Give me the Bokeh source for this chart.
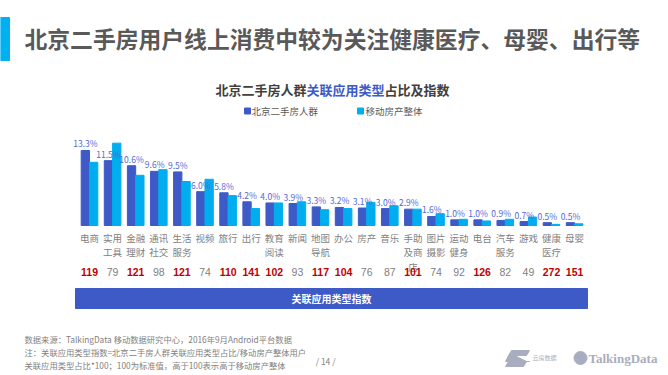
from bokeh.plotting import figure
from bokeh.models import ColumnDataSource, Range1d, Label
from bokeh.transform import dodge
from bokeh.core.properties import value
from bokeh.embed import file_html
from bokeh.resources import INLINE

# ---------------- data ----------------
categories = ["电商", "实用\n工具", "金融\n理财", "通讯\n社交", "生活\n服务", "视频", "旅行", "出行",
              "教育\n阅读", "新闻", "地图\n导航", "办公", "房产", "音乐", "手助\n及商\n店", "图片\n摄影",
              "运动\n健身", "电台", "汽车\n服务", "游戏", "健康\n医疗", "母婴"]
beijing_share = [13.3, 11.5, 10.6, 9.6, 9.5, 6.0, 5.8, 4.2, 4.0, 3.9, 3.3, 3.2, 3.1, 3.0, 2.9, 1.6,
                 1.0, 1.0, 0.9, 0.7, 0.5, 0.5]
overall_share = [11.2, 14.6, 8.9, 9.9, 7.8, 8.2, 5.3, 3.0, 4.0, 4.2, 2.8, 3.0, 4.1, 3.5, 2.9, 2.1,
                 1.1, 0.8, 1.1, 1.5, 0.2, 0.3]
index_values = [119, 79, 121, 98, 121, 74, 110, 141, 102, 93, 117, 104, 76, 87, 101, 74, 92, 126,
                82, 49, 272, 151]
series_names = ["北京二手房人群", "移动房产整体"]

FONT = value("Noto Sans CJK SC")
DARK = "#3D5AC7"
LIGHT = "#00AEEF"
GRAY = "#7F7F7F"

W, H = 668, 375
# pixel mapping of the data space (figure fills the whole page)
XS, X0PX = 23.1, 89.0          # px per category, px of first category
YS, BASEPX = 5.64, 225.0       # px per percent, px of baseline


def X(px):
    return (px - X0PX) / XS


def Y(py):
    return (BASEPX - py) / YS


p = figure(width=W, height=H, output_backend="svg", toolbar_location=None,
           x_range=Range1d(X(0), X(W)), y_range=Range1d(Y(H), Y(0)),
           min_border=0, x_axis_location=None, y_axis_location=None)
p.outline_line_color = None
p.grid.visible = False
p.background_fill_color = "white"
p.border_fill_color = "white"

idx = list(range(len(categories)))
src = ColumnDataSource(dict(
    x=idx, cat=categories, dark=beijing_share, light=overall_share,
    lab=[f"{v:.1f}%" for v in beijing_share],
    ind=[str(v) for v in index_values],
    indcol=["#C00000" if v > 100 else "#808080" for v in index_values],
    indstyle=["bold" if v > 100 else "normal" for v in index_values],
    cy=[Y(230)] * len(idx),
    iy=[Y(271.5)] * len(idx),
))

bw = 0.36
p.vbar(x=dodge("x", -bw / 2, range=p.x_range), top="dark", width=bw, bottom=0,
       color=DARK, source=src)
p.vbar(x=dodge("x", bw / 2, range=p.x_range), top="light", width=bw, bottom=0,
       color=LIGHT, source=src)

# value labels above the Beijing bars
p.text(x=dodge("x", -bw / 2, range=p.x_range), y="dark", text="lab", source=src,
       text_font=FONT, text_font_size="8.5px", text_color="#5468D4",
       text_align="center", text_baseline="alphabetic", y_offset=-7)

# category labels
p.text(x="x", y="cy", text="cat", source=src, text_font=FONT, text_font_size="9.5px",
       text_color=GRAY, text_align="center", text_baseline="top", text_line_height=1.05)

# index numbers
p.text(x="x", y="iy", text="ind", source=src, text_font=value("Liberation Sans"),
       text_font_size="10.5px", text_color="indcol", text_font_style="indstyle",
       text_align="center", text_baseline="middle")

# index band
p.quad(left=X(75), right=X(587), top=Y(288), bottom=Y(308), color=DARK)
p.add_layout(Label(x=X(331), y=Y(298), text="关联应用类型指数", text_font="Noto Sans CJK SC",
                   text_font_size="10px", text_font_style="bold", text_color="white",
                   text_align="center", text_baseline="middle"))

# accent bar and page title
p.quad(left=X(0), right=X(9), top=Y(17), bottom=Y(60), color="#00B0F0")
p.add_layout(Label(x=X(24), y=Y(38), text="北京二手房用户线上消费中较为关注健康医疗、母婴、出行等",
                   text_font="Noto Sans CJK SC", text_font_size="22.8px", text_font_style="bold",
                   text_color="#595959", text_align="left", text_baseline="middle"))

# chart title in three coloured parts
parts = [("北京二手房人群", "#404040", 215), ("关联应用类型", DARK, 215 + 7 * 13),
         ("占比及指数", "#404040", 215 + 13 * 13)]
for t, c, x0 in parts:
    p.add_layout(Label(x=X(x0), y=Y(89), text=t, text_font="Noto Sans CJK SC",
                       text_font_size="13px", text_font_style="bold", text_color=c,
                       text_align="left", text_baseline="middle"))

# legend
for (name, col, sx, tx) in [(series_names[0], DARK, 244, 251), (series_names[1], LIGHT, 357, 365)]:
    p.quad(left=X(sx), right=X(sx + 6), top=Y(107.5), bottom=Y(113.5), color=col)
    p.add_layout(Label(x=X(tx), y=Y(110.5), text=name, text_font="Noto Sans CJK SC",
                       text_font_size="9.5px", text_color="#595959",
                       text_align="left", text_baseline="middle"))

# footer notes
notes = ["数据来源：TalkingData 移动数据研究中心，2016年9月Android平台数据",
         "注：关联应用类型指数=北京二手房人群关联应用类型占比/移动房产整体用户",
         "关联应用类型占比*100；100为标准值，高于100表示高于移动房产整体"]
for t, yy in zip(notes, [338, 351, 364]):
    p.add_layout(Label(x=X(24), y=Y(yy), text=t, text_font="Noto Sans CJK SC",
                       text_font_size="8.3px", text_color=GRAY,
                       text_align="left", text_baseline="middle"))
p.add_layout(Label(x=X(327), y=Y(360), text="/  14  /", text_font="Noto Sans CJK SC",
                   text_font_size="8.5px", text_color=GRAY, text_align="center",
                   text_baseline="middle"))

# logos (approximations)
LOGO = "#A9ADC0"
p.patch(x=[X(511), X(529), X(526), X(508)], y=[Y(350), Y(350), Y(355), Y(355)], color=LOGO)
p.patch(x=[X(508), X(514), X(526), X(529), X(511), X(505)],
        y=[Y(355), Y(355), Y(361), Y(361), Y(361), Y(361)], color=LOGO)
p.patch(x=[X(508), X(526), X(523), X(505)], y=[Y(361), Y(361), Y(366), Y(366)], color=LOGO)
p.add_layout(Label(x=X(532), y=Y(357), text="云房数据", text_font="Noto Sans CJK SC",
                   text_font_size="6px", text_color=LOGO, text_align="left",
                   text_baseline="middle"))
p.scatter(x=[X(580)], y=[Y(357.5)], size=13, marker="circle", color=LOGO)
p.add_layout(Label(x=X(588), y=Y(357.5), text="TalkingData", text_font="Liberation Sans Narrow",
                   text_font_size="13px", text_font_style="bold", text_color=LOGO,
                   text_align="left", text_baseline="middle"))

open("out.html", "w").write(file_html(p, INLINE))
